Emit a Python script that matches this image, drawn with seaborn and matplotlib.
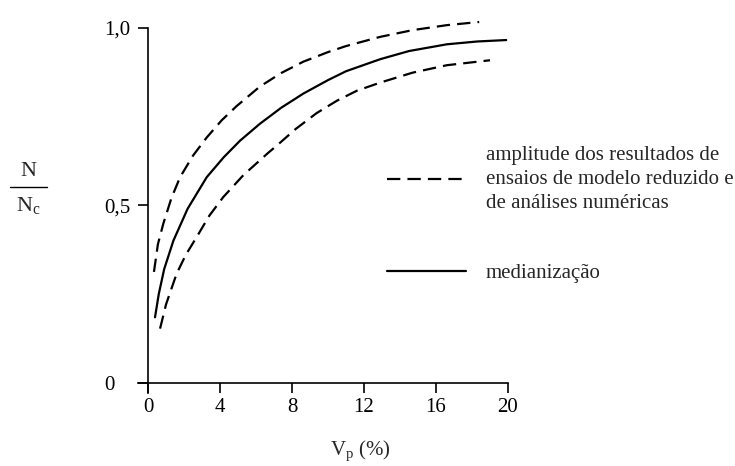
import numpy as np
import pandas as pd
import matplotlib
matplotlib.use("Agg")
import matplotlib.pyplot as plt
from matplotlib.lines import Line2D
import seaborn as sns

# ---- data ----
median_x = [0.39, 0.6, 0.9, 1.41, 2.2, 3.26, 4.2, 5.11, 6.22, 7.4, 8.63, 10.0, 11.0, 12.9, 14.5, 16.6, 18.3, 19.9]
median_y = [0.184, 0.25, 0.32, 0.40, 0.49, 0.579, 0.635, 0.682, 0.730, 0.775, 0.815, 0.853, 0.878, 0.912, 0.935, 0.954, 0.962, 0.966]

upper_x = [0.33, 0.55, 0.85, 1.3, 1.78, 2.5, 3.26, 4.1, 4.93, 6.22, 7.4, 8.63, 10.0, 11.0, 12.9, 14.7, 16.6, 18.4]
upper_y = [0.312, 0.39, 0.448, 0.52, 0.579, 0.64, 0.691, 0.74, 0.78, 0.835, 0.873, 0.905, 0.932, 0.949, 0.975, 0.994, 1.008, 1.017]

lower_x = [0.67, 1.0, 1.59, 2.1, 2.7, 3.4, 4.18, 5.3, 6.68, 7.15, 8.2, 9.37, 10.5, 11.6, 12.9, 14.7, 16.6, 19.0]
lower_y = [0.152, 0.22, 0.307, 0.36, 0.41, 0.47, 0.523, 0.585, 0.648, 0.668, 0.715, 0.760, 0.795, 0.823, 0.846, 0.874, 0.895, 0.909]

x_ticks = [0, 4, 8, 12, 16, 20]
y_ticks = [0, 0.5, 1.0]
y_tick_labels = ["0", "0,5", "1,0"]

label_band = "amplitude dos resultados de\nensaios de modelo reduzido e\nde análises numéricas"
label_median = "medianização"

# ---- style ----
sns.set_style("ticks")
plt.rcParams["font.family"] = ["Liberation Serif", "DejaVu Serif"]
plt.rcParams["mathtext.fontset"] = "custom"
plt.rcParams["mathtext.rm"] = "Liberation Serif"
plt.rcParams["mathtext.it"] = "Liberation Serif:italic"

W, H = 735, 466
fig = plt.figure(figsize=(W / 100, H / 100), dpi=100)

# axes placement (pixel geometry of the reference)
x0_px, x20_px = 148.0, 508.0
y0_px, y1_px = 382.5, 28.0
xmin, ymin = -0.55, -0.03
ppx = (x20_px - x0_px) / 20.0
ppy = (y0_px - y1_px) / 1.0
left_px = x0_px + xmin * ppx
bottom_px = y0_px - ymin * ppy
ax = fig.add_axes([left_px / W, 1 - bottom_px / H, (x20_px - left_px) / W, (bottom_px - y1_px) / H])

FS = 15
dash = (6, 3.2)
lw = 1.6

df_up = pd.DataFrame({"x": upper_x, "y": upper_y})
df_lo = pd.DataFrame({"x": lower_x, "y": lower_y})
df_md = pd.DataFrame({"x": median_x, "y": median_y})

for df in (df_up, df_lo, df_md):
    sns.lineplot(data=df, x="x", y="y", ax=ax, color="black", lw=lw, sort=False,
                 estimator=None)
for ln in ax.lines[:2]:
    ln.set_dashes(dash)
for ln in ax.lines:
    ln.set_clip_on(False)

ax.set_xlim(xmin, 20)
ax.set_ylim(ymin, 1.0)
ax.spines["left"].set_position(("data", 0))
ax.spines["bottom"].set_position(("data", 0))
ax.spines["right"].set_visible(False)
ax.spines["top"].set_visible(False)
for s in ("left", "bottom"):
    ax.spines[s].set_linewidth(1.2)
    ax.spines[s].set_color("black")

ax.set_xticks(x_ticks)
ax.set_xticklabels([str(t) for t in x_ticks])
ax.set_yticks(y_ticks)
ax.set_yticklabels(y_tick_labels)
ax.tick_params(axis="both", direction="out", length=7.5, width=1.2, colors="black",
               labelsize=FS)
ax.tick_params(axis="x", pad=4)
ax.tick_params(axis="y", pad=24)
for t in ax.get_yticklabels():
    t.set_horizontalalignment("left")
ax.set_xlabel("")
ax.set_ylabel("")

# axis titles
fig.text(330 / W, 1 - 451 / H, "V$_\\mathrm{p}$ (%)", fontsize=FS, ha="left", va="center")
fig.text(28 / W, 1 - 172 / H, "N", fontsize=16, ha="center", va="center")
fig.add_artist(Line2D([10 / W, 47 / W], [1 - 187 / H, 1 - 187 / H], color="black", lw=1.0))
fig.text(28 / W, 1 - 206 / H, "N$_\\mathrm{c}$", fontsize=16, ha="center", va="center")

# legend
h_band = Line2D([], [], color="black", lw=lw, dashes=dash)
h_med = Line2D([], [], color="black", lw=lw)
leg = ax.legend([h_band, h_med], [label_band, label_median], loc="upper left",
                bbox_to_anchor=(387 / W, 1 - 146 / H), bbox_transform=fig.transFigure,
                frameon=False, fontsize=FS, handlelength=3.8, handletextpad=0.95,
                borderpad=0, borderaxespad=0, labelspacing=2.45)
for t in leg.get_texts():
    t.set_linespacing(1.35)

fig.savefig("out.png", dpi=100)
